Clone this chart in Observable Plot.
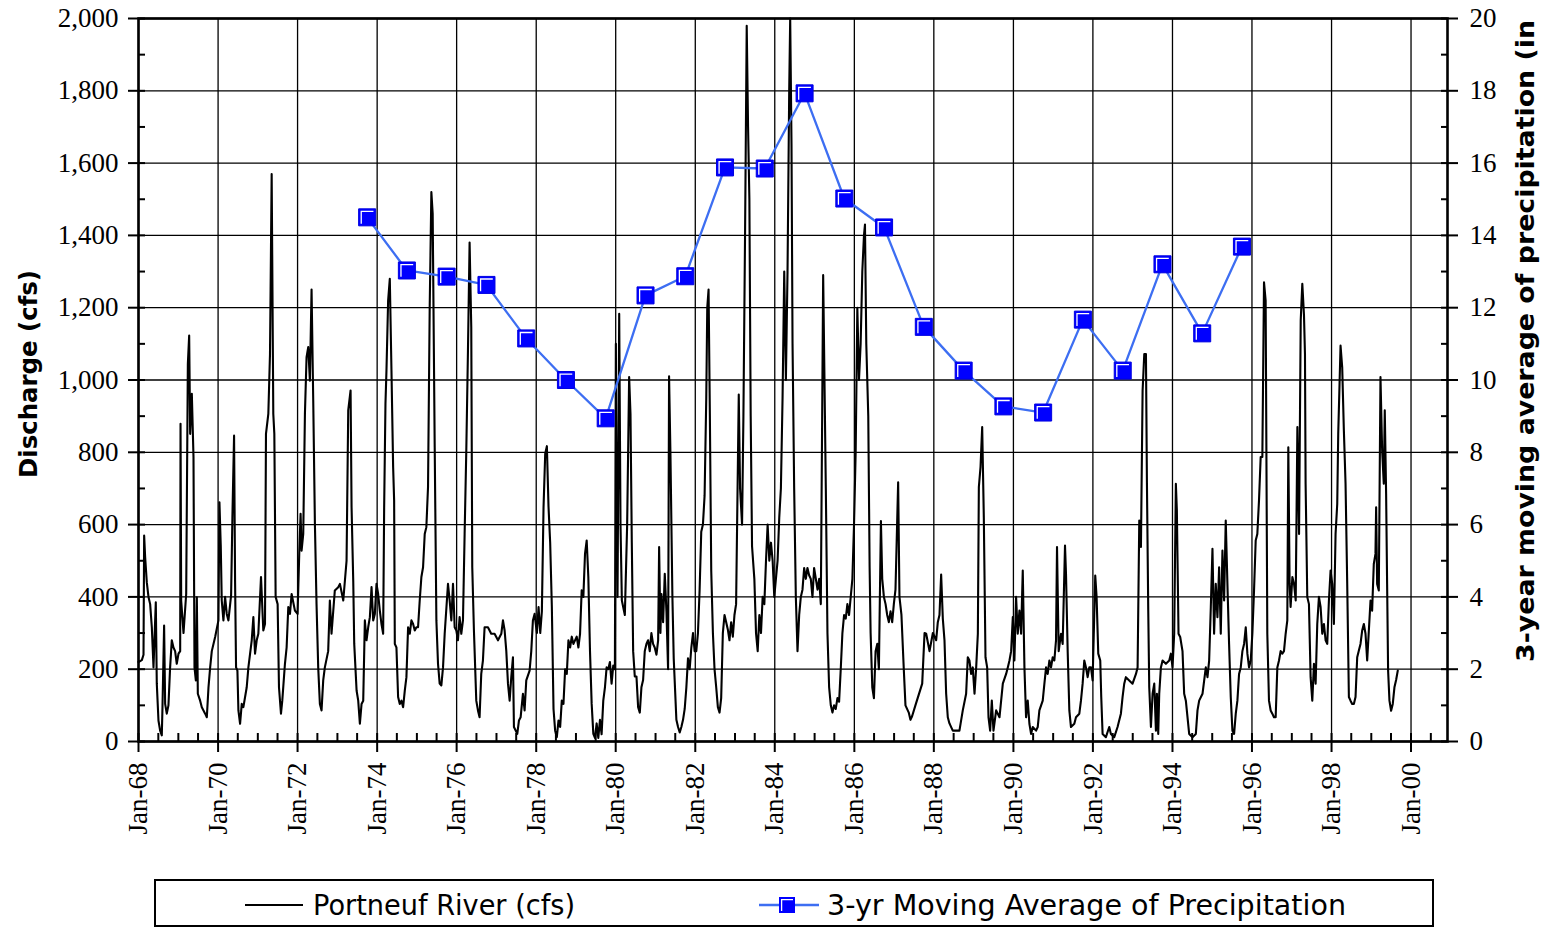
<!DOCTYPE html>
<html><head><meta charset="utf-8">
<script src="https://cdn.jsdelivr.net/npm/d3@7"></script>
<script src="https://cdn.jsdelivr.net/npm/@observablehq/plot@0.6"></script>
<style>
body{margin:0;background:#fff;width:1551px;height:928px;position:relative;overflow:hidden}
#chart{position:absolute;left:0;top:0}
#legend{position:absolute;left:0;top:878px}
</style></head><body>
<div id="chart"></div>
<svg id="legend" width="1551" height="50"></svg>
<script>
// ---- Data: Portneuf River daily discharge (cfs) as [decimal year, cfs]
const flow1968_77 = [
[1968.000,220],[1968.084,225],[1968.126,240],[1968.142,570],[1968.167,510],[1968.209,440],[1968.251,400],[1968.293,380],[1968.335,316],[1968.377,205],[1968.435,385],[1968.460,160],[1968.502,58],[1968.544,30],[1968.586,17],[1968.603,95],[1968.644,321],[1968.670,104],[1968.711,77],[1968.753,100],[1968.795,205],[1968.837,280],[1968.879,260],[1968.921,250],[1968.962,215],
[1969.004,243],[1969.046,250],[1969.055,879],[1969.071,390],[1969.130,300],[1969.197,408],[1969.239,1045],[1969.272,1123],[1969.297,851],[1969.339,962],[1969.381,786],[1969.406,205],[1969.440,169],[1969.465,399],[1969.490,132],[1969.548,113],[1969.590,95],[1969.674,77],[1969.716,67],[1969.758,150],[1969.800,205],[1969.841,250],[1969.925,289],
[1970.009,335],[1970.034,662],[1970.067,542],[1970.092,390],[1970.134,335],[1970.176,400],[1970.218,353],[1970.260,335],[1970.327,404],[1970.360,620],[1970.402,846],[1970.427,445],[1970.452,205],[1970.486,196],[1970.511,86],[1970.553,49],[1970.595,104],[1970.636,95],[1970.720,150],[1970.762,205],[1970.846,280],[1970.887,344],[1970.929,243],[1970.971,280],
[1971.013,298],[1971.080,455],[1971.138,307],[1971.180,325],[1971.205,851],[1971.264,906],[1971.306,1072],[1971.348,1570],[1971.389,906],[1971.415,851],[1971.448,400],[1971.498,380],[1971.532,150],[1971.582,77],[1971.615,113],[1971.682,215],[1971.724,260],[1971.766,372],[1971.808,353],[1971.850,408],[1971.933,362],
[1972.000,353],[1972.042,519],[1972.076,630],[1972.101,528],[1972.143,574],[1972.185,906],[1972.226,1063],[1972.268,1091],[1972.310,998],[1972.352,1250],[1972.394,943],[1972.436,602],[1972.477,380],[1972.519,205],[1972.561,104],[1972.603,86],[1972.645,169],[1972.686,205],[1972.770,250],[1972.812,390],[1972.854,298],[1972.937,418],
[1973.021,427],[1973.063,436],[1973.147,390],[1973.230,500],[1973.272,916],[1973.331,971],[1973.356,648],[1973.398,445],[1973.423,270],[1973.482,141],[1973.523,113],[1973.565,49],[1973.607,104],[1973.649,113],[1973.690,335],[1973.732,280],[1973.774,316],[1973.816,344],[1973.858,427],[1973.900,335],[1973.941,353],[1973.983,436],
[1974.025,408],[1974.067,362],[1974.109,325],[1974.151,298],[1974.176,648],[1974.209,934],[1974.234,1026],[1974.276,1220],[1974.318,1280],[1974.360,1026],[1974.402,759],[1974.427,667],[1974.444,270],[1974.485,260],[1974.527,123],[1974.569,104],[1974.611,113],[1974.653,95],[1974.695,141],[1974.736,178],[1974.778,316],[1974.820,298],[1974.862,335],[1974.904,325],[1974.946,307],[1974.987,316],
[1975.029,316],[1975.071,390],[1975.113,455],[1975.155,482],[1975.197,574],[1975.238,593],[1975.280,704],[1975.322,1200],[1975.364,1520],[1975.397,1460],[1975.448,814],[1975.490,335],[1975.531,215],[1975.573,160],[1975.615,155],[1975.657,205],[1975.699,298],[1975.782,436],[1975.824,390],[1975.866,335],[1975.908,436],[1975.950,316],[1975.992,307],
[1976.033,280],[1976.075,344],[1976.117,298],[1976.159,335],[1976.201,574],[1976.243,805],[1976.285,1082],[1976.326,1380],[1976.368,1146],[1976.393,482],[1976.435,307],[1976.494,113],[1976.536,86],[1976.577,67],[1976.619,187],[1976.661,224],[1976.703,316],[1976.787,316],[1976.870,298],[1976.954,298],
[1977.038,280],[1977.121,298],[1977.163,335],[1977.205,307],[1977.247,250],[1977.289,160],[1977.331,113],[1977.372,178],[1977.414,233],[1977.439,40],[1977.523,21],[1977.565,58],[1977.607,67],[1977.665,132],[1977.707,86],[1977.749,169],[1977.833,196],[1977.875,250],[1977.916,335],[1977.958,353]
];
const flow1978_87 = [
[1978.017,300],[1978.059,372],[1978.101,300],[1978.142,360],[1978.184,648],[1978.226,796],[1978.268,817],[1978.309,650],[1978.351,550],[1978.393,372],[1978.435,90],[1978.476,30],[1978.518,12],[1978.560,58],[1978.602,40],[1978.643,113],[1978.685,104],[1978.727,200],[1978.769,187],[1978.810,280],[1978.852,260],[1978.894,290],[1978.936,270],
[1979.019,290],[1979.061,260],[1979.103,298],[1979.144,418],[1979.186,400],[1979.228,520],[1979.270,556],[1979.311,455],[1979.353,250],[1979.395,104],[1979.437,21],[1979.478,10],[1979.520,50],[1979.562,10],[1979.604,60],[1979.645,20],[1979.687,113],[1979.729,150],[1979.771,205],[1979.812,200],[1979.854,220],[1979.896,160],[1979.938,210],[1979.979,200],
[1980.004,1100],[1980.021,700],[1980.046,400],[1980.088,1183],[1980.121,600],[1980.155,390],[1980.230,350],[1980.288,600],[1980.338,1008],[1980.372,906],[1980.405,550],[1980.439,250],[1980.480,180],[1980.522,180],[1980.564,95],[1980.606,80],[1980.647,150],[1980.689,170],[1980.731,250],[1980.773,270],[1980.814,280],[1980.856,250],[1980.898,300],[1980.940,270],[1980.981,260],
[1981.023,240],[1981.065,280],[1981.090,538],[1981.123,300],[1981.148,408],[1981.190,330],[1981.232,464],[1981.274,360],[1981.315,200],[1981.340,1010],[1981.374,800],[1981.424,400],[1981.457,230],[1981.524,60],[1981.566,40],[1981.608,25],[1981.649,40],[1981.691,60],[1981.733,90],[1981.775,150],[1981.816,230],[1981.858,200],[1981.900,260],[1981.942,300],[1981.983,250],
[1982.025,250],[1982.067,300],[1982.109,420],[1982.150,580],[1982.192,600],[1982.234,680],[1982.276,950],[1982.301,1200],[1982.334,1250],[1982.367,900],[1982.401,473],[1982.443,300],[1982.484,200],[1982.526,150],[1982.568,95],[1982.610,80],[1982.651,120],[1982.693,300],[1982.735,350],[1982.777,330],[1982.818,310],[1982.860,280],[1982.902,330],[1982.944,290],[1982.985,350],
[1983.027,380],[1983.094,960],[1983.127,700],[1983.177,600],[1983.211,900],[1983.252,1400],[1983.294,1980],[1983.328,1700],[1983.361,1500],[1983.394,900],[1983.428,540],[1983.486,450],[1983.528,300],[1983.570,250],[1983.612,350],[1983.653,300],[1983.695,400],[1983.737,380],[1983.779,500],[1983.820,600],[1983.862,500],[1983.904,550],[1983.946,500],[1983.987,400],
[1984.029,450],[1984.071,500],[1984.113,620],[1984.154,700],[1984.196,950],[1984.238,1300],[1984.280,1000],[1984.321,1300],[1984.363,1800],[1984.388,2000],[1984.421,1650],[1984.447,1100],[1984.488,700],[1984.530,400],[1984.572,250],[1984.614,350],[1984.655,400],[1984.697,420],[1984.739,480],[1984.781,450],[1984.822,480],[1984.864,460],[1984.906,450],[1984.948,400],[1984.989,480],
[1985.031,450],[1985.073,420],[1985.115,450],[1985.156,380],[1985.190,900],[1985.215,1290],[1985.248,1000],[1985.282,700],[1985.323,300],[1985.365,150],[1985.407,100],[1985.449,80],[1985.490,100],[1985.532,90],[1985.574,120],[1985.616,110],[1985.657,200],[1985.699,300],[1985.741,350],[1985.783,340],[1985.824,380],[1985.866,350],[1985.908,400],[1985.950,450],[1985.991,600],
[1986.033,800],[1986.075,1200],[1986.117,1000],[1986.158,1100],[1986.200,1300],[1986.242,1400],[1986.267,1430],[1986.300,1100],[1986.350,900],[1986.384,482],[1986.409,300],[1986.451,150],[1986.492,120],[1986.534,250],[1986.576,270],[1986.617,200],[1986.668,610],[1986.701,450],[1986.743,400],[1986.785,380],[1986.826,350],[1986.868,330],[1986.910,360],[1986.952,330],[1986.993,380],
[1987.035,420],[1987.102,717],[1987.135,400],[1987.185,350],[1987.244,200],[1987.286,100],[1987.369,80],[1987.411,60],[1987.453,70],[1987.536,100]
];
const flow1987_99 = [
[1987.707,160],[1987.766,300],[1987.807,298],[1987.891,250],[1987.975,300],
[1988.059,280],[1988.100,330],[1988.142,350],[1988.184,462],[1988.226,340],[1988.268,280],[1988.310,132],[1988.351,67],[1988.393,50],[1988.477,30],[1988.561,30],[1988.644,30],[1988.728,86],[1988.812,132],[1988.854,233],[1988.896,224],[1988.937,187],[1988.979,205],
[1989.021,132],[1989.063,205],[1989.105,298],[1989.130,704],[1989.172,759],[1989.214,870],[1989.255,620],[1989.297,233],[1989.339,205],[1989.373,67],[1989.414,30],[1989.456,113],[1989.498,30],[1989.565,86],[1989.649,67],[1989.733,160],[1989.816,187],[1989.858,205],[1989.900,224],[1989.942,250],[1989.984,344],
[1990.025,224],[1990.067,400],[1990.109,298],[1990.151,362],[1990.193,298],[1990.235,473],[1990.277,205],[1990.318,67],[1990.360,113],[1990.402,49],[1990.444,21],[1990.486,40],[1990.570,30],[1990.611,40],[1990.653,86],[1990.737,113],[1990.779,160],[1990.821,205],[1990.862,187],[1990.904,224],[1990.946,205],[1990.988,233],
[1991.030,224],[1991.072,280],[1991.097,538],[1991.139,250],[1991.197,298],[1991.239,270],[1991.298,542],[1991.323,464],[1991.365,250],[1991.407,86],[1991.448,40],[1991.532,49],[1991.574,67],[1991.658,77],[1991.699,113],[1991.741,160],[1991.783,224],[1991.825,205],[1991.867,178],[1991.909,205],[1991.951,205],[1991.992,169],
[1992.059,459],[1992.093,400],[1992.135,243],[1992.185,224],[1992.210,123],[1992.244,21],[1992.327,12],[1992.411,40],[1992.453,21],[1992.537,12],[1992.620,40],[1992.704,77],[1992.746,123],[1992.788,160],[1992.829,178],[1992.913,169],[1992.997,160],
[1993.081,187],[1993.122,205],[1993.164,611],[1993.206,538],[1993.248,971],[1993.290,1072],[1993.332,1072],[1993.357,713],[1993.390,362],[1993.415,150],[1993.457,40],[1993.499,132],[1993.541,160],[1993.583,30],[1993.608,132],[1993.641,21],[1993.666,132],[1993.708,205],[1993.750,224],[1993.834,215],[1993.918,224],[1993.959,243],
[1994.001,205],[1994.043,298],[1994.085,713],[1994.110,640],[1994.152,298],[1994.194,289],[1994.252,250],[1994.294,132],[1994.336,113],[1994.420,21],[1994.503,12],[1994.587,21],[1994.629,86],[1994.671,113],[1994.755,132],[1994.838,205],[1994.880,178],[1994.922,224],[1994.964,372],
[1995.006,533],[1995.047,298],[1995.089,436],[1995.131,344],[1995.173,482],[1995.215,298],[1995.257,528],[1995.299,390],[1995.340,611],[1995.382,436],[1995.424,270],[1995.466,123],[1995.508,30],[1995.550,21],[1995.592,77],[1995.633,113],[1995.675,187],[1995.717,205],[1995.759,250],[1995.801,270],[1995.843,316],[1995.884,243],[1995.926,205],[1995.968,224],
[1996.010,298],[1996.052,418],[1996.094,556],[1996.135,574],[1996.177,667],[1996.219,787],[1996.261,787],[1996.303,1270],[1996.344,1220],[1996.386,298],[1996.428,113],[1996.470,86],[1996.512,77],[1996.554,67],[1996.596,67],[1996.638,205],[1996.680,224],[1996.721,250],[1996.763,243],[1996.805,250],[1996.847,298],[1996.889,335],[1996.914,814],[1996.947,436],[1996.972,372],
[1997.014,455],[1997.056,436],[1997.098,390],[1997.140,870],[1997.182,574],[1997.224,1165],[1997.264,1266],[1997.306,1180],[1997.331,1072],[1997.347,713],[1997.389,400],[1997.431,380],[1997.473,178],[1997.515,113],[1997.557,215],[1997.599,160],[1997.640,325],[1997.682,400],[1997.724,372],[1997.766,298],[1997.808,325],[1997.850,280],[1997.891,270],[1997.933,390],[1997.975,473],
[1998.017,436],[1998.059,325],[1998.101,574],[1998.143,657],[1998.168,851],[1998.201,989],[1998.226,1095],[1998.268,1035],[1998.310,860],[1998.352,713],[1998.394,436],[1998.436,123],[1998.477,113],[1998.519,104],[1998.561,104],[1998.603,123],[1998.645,233],[1998.687,252],[1998.728,270],[1998.770,307],[1998.812,325],[1998.854,298],[1998.896,224],[1998.938,307],[1998.980,390],
[1999.021,362],[1999.063,491],[1999.105,519],[1999.122,648],[1999.147,436],[1999.189,418],[1999.231,1008],[1999.273,805],[1999.314,713],[1999.339,916],[1999.373,685],[1999.398,436],[1999.423,196],[1999.457,113],[1999.498,85],[1999.540,104],[1999.582,150],[1999.624,170],[1999.666,196]
];
// ---- 3-yr moving average of precipitation (in), plotted at end of each water year (Oct 1)
const precipYears = [1973,1974,1975,1976,1977,1978,1979,1980,1981,1982,1983,1984,1985,1986,1987,1988,1989,1990,1991,1992,1993,1994,1995];
const precipInches = [14.5,13.03,12.86,12.63,11.15,10.0,8.94,12.34,12.87,15.88,15.85,17.93,15.02,14.22,11.47,10.26,9.27,9.1,11.67,10.26,13.2,11.29,13.69];
// ---- tick values
const yTicksCfs = d3.range(0, 2001, 200);
const yMinorCfs = d3.range(100, 2000, 200);
const xTickYears = d3.range(1968, 2001, 2);

const toDate = y => { const Y = Math.floor(y); return new Date(Date.UTC(Y,0,1) + (y - Y) * 365.25 * 864e5); };
const flow = [...flow1968_77, ...flow1978_87, ...flow1987_99].map(([y, v]) => ({date: toDate(y), cfs: v}));
const precip = precipYears.map((y, i) => ({date: new Date(Date.UTC(y, 9, 1)), p: precipInches[i]}));
const X0 = new Date(Date.UTC(1968,0,1)), X1 = new Date(Date.UTC(2000,11,1));
const xMajor = xTickYears.map(y => new Date(Date.UTC(y,0,1)));
const xMinor = d3.utcMonth.every(6).range(X0, X1);

const hl = {draw(ctx, size){ const r = Math.sqrt(size/Math.PI), h = r*0.886;
  ctx.moveTo(-h+2.6, h-2.2); ctx.lineTo(-h+2.6, -h+2.6); ctx.lineTo(h-2.2, -h+2.6); }};
const blank = () => "";
const tk = {stroke:"#000", strokeWidth:2};

const chart = Plot.plot({
  width: 1551, height: 860,
  marginLeft: 138, marginRight: 104, marginTop: 18, marginBottom: 119,
  x: {type: "utc", domain: [X0, X1]},
  y: {domain: [0, 2000]},
  style: {fontFamily: "'Liberation Serif', serif", fontSize: "27px", color: "#000", background: "#fff"},
  marks: [
    Plot.gridX(xMajor, {stroke: "#000", strokeOpacity: 1, strokeWidth: 1.3}),
    Plot.gridY(yTicksCfs, {stroke: "#000", strokeOpacity: 1, strokeWidth: 1.3}),
    Plot.line(flow, {x: "date", y: "cfs", stroke: "#000", strokeWidth: 2.1}),
    Plot.line(precip, {x: "date", y: d => d.p * 100, stroke: "#3d6ef2", strokeWidth: 2.3}),
    Plot.dot(precip, {x: "date", y: d => d.p * 100, symbol: "square", r: 9.6, fill: "#0000ff", stroke: "#0000e0", strokeWidth: 1}),
    Plot.dot(precip, {x: "date", y: d => d.p * 100, symbol: hl, r: 9.6, fill: "none", stroke: "#fff", strokeWidth: 1.3}),
    Plot.frame({stroke: "#000", strokeWidth: 2.6}),
    // x axis: major ticks outward, minor ticks inward, rotated labels
    Plot.axisX(xMajor, {tickSize: 11, tickFormat: blank, label: null, ...tk}),
    Plot.axisX(xMinor, {tickSize: 8, dy: -8, tickFormat: blank, label: null, ...tk}),
    Plot.axisX(xMajor, {tickSize: 0, tickPadding: 21, tickRotate: -90, label: null,
      tickFormat: d => "Jan-" + String(d.getUTCFullYear() % 100).padStart(2, "0")}),
    // left axis
    Plot.axisY(yTicksCfs, {anchor: "left", tickSize: 17, dx: 7, tickFormat: blank, label: null, ...tk}),
    Plot.axisY(yMinorCfs, {anchor: "left", tickSize: 7, dx: 7, tickFormat: blank, label: null, ...tk}),
    Plot.axisY(yTicksCfs, {anchor: "left", tickSize: 0, tickPadding: 20, tickFormat: d3.format(","), label: null}),
    // right axis (precipitation, inches = cfs scale / 100)
    Plot.axisY(yTicksCfs, {anchor: "right", tickSize: 17, dx: -7, tickFormat: blank, label: null, ...tk}),
    Plot.axisY(yMinorCfs, {anchor: "right", tickSize: 7, dx: -7, tickFormat: blank, label: null, ...tk}),
    Plot.axisY(yTicksCfs, {anchor: "right", tickSize: 0, tickPadding: 22, tickFormat: d => d / 100, label: null})
  ]
});
document.getElementById("chart").appendChild(chart);

const svg = d3.select(chart);
svg.append("text").attr("transform", "translate(37,374) rotate(-90)")
  .attr("text-anchor", "middle").attr("font-family", "'DejaVu Sans', sans-serif")
  .attr("font-weight", "bold").attr("font-size", 24).attr("fill", "#000")
  .attr("textLength", 208).attr("lengthAdjust", "spacingAndGlyphs")
  .text("Discharge (cfs)");
svg.append("text").attr("transform", "translate(1534,662) rotate(-90)")
  .attr("text-anchor", "start").attr("font-family", "'DejaVu Sans', sans-serif")
  .attr("font-weight", "bold").attr("font-size", 24).attr("fill", "#000")
  .attr("textLength", 642).attr("lengthAdjust", "spacingAndGlyphs")
  .text("3-year moving average of precipitation (in");

// legend
const lg = d3.select("#legend");
lg.append("rect").attr("x", 155).attr("y", 2).attr("width", 1278).attr("height", 46)
  .attr("fill", "#fff").attr("stroke", "#000").attr("stroke-width", 2);
lg.append("line").attr("x1", 245).attr("x2", 303).attr("y1", 27).attr("y2", 27).attr("stroke", "#000").attr("stroke-width", 2);
lg.append("text").attr("x", 313).attr("y", 37).attr("font-family", "'DejaVu Sans', sans-serif").attr("font-size", 29)
  .attr("textLength", 262).attr("lengthAdjust", "spacingAndGlyphs").text("Portneuf River (cfs)");
lg.append("line").attr("x1", 759).attr("x2", 819).attr("y1", 27).attr("y2", 27).attr("stroke", "#3d6ef2").attr("stroke-width", 2.3);
lg.append("rect").attr("x", 779).attr("y", 19).attr("width", 16).attr("height", 16).attr("fill", "#0000ff");
lg.append("path").attr("d", "M781.6,33 V21.6 H793").attr("fill", "none").attr("stroke", "#fff").attr("stroke-width", 1.3);
lg.append("text").attr("x", 827).attr("y", 37).attr("font-family", "'DejaVu Sans', sans-serif").attr("font-size", 29)
  .attr("textLength", 519).attr("lengthAdjust", "spacingAndGlyphs").text("3-yr Moving Average of Precipitation");
</script>
</body></html>
